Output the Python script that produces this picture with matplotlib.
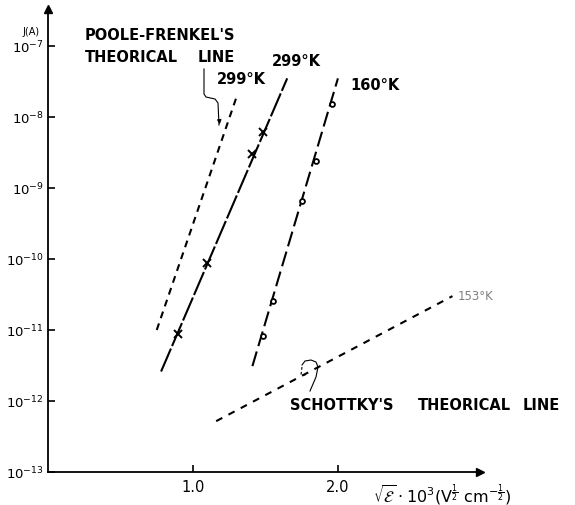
import numpy as np
import matplotlib
matplotlib.use("Agg")
import matplotlib.pyplot as plt
from matplotlib.lines import Line2D

plt.rcParams['font.family'] = ['DejaVu Sans']
plt.rcParams['lines.scale_dashes'] = False
plt.rcParams['mathtext.fontset'] = 'dejavusans'

# ---- data (x = sqrt(E)*1e3, J in A) ----
pf_x = [0.75, 1.30]
pf_J = [1.0e-11, 1.9e-8]

t299_line_x = [0.78, 1.65]
t299_line_J = [2.6e-12, 3.5e-8]
t299_pts_x = [0.90, 1.10, 1.41, 1.48]
t299_pts_J = [8.7e-12, 8.7e-11, 3.0e-9, 6.2e-9]

t160_line_x = [1.41, 2.00]
t160_line_J = [3.1e-12, 3.5e-8]
t160_pts_x = [1.48, 1.55, 1.75, 1.85, 1.96]
t160_pts_J = [8.3e-12, 2.6e-11, 6.6e-10, 2.4e-9, 1.5e-8]

schottky_x = [1.16, 2.79]
schottky_J = [5.2e-13, 3.0e-11]

y_exps = [-13, -12, -11, -10, -9, -8, -7]
x_ticks = [1.0, 2.0]
x_ticklabels = ['1.0', '2.0']

W, H = 575, 506
fig = plt.figure(figsize=(W / 100, H / 100), dpi=100)

def fx(px):
    return px / W

def fy(py):
    return 1 - py / H

ax = fig.add_axes([fx(48), fy(473), fx(480) - fx(48), fy(10) - fy(473)])
ax.set_yscale('log')
ax.set_xlim(0, 2.98)
ax.set_ylim(1e-13, 10 ** (-13 + 463 / 71))

for s in ['top', 'right']:
    ax.spines[s].set_visible(False)
for s in ['left', 'bottom']:
    ax.spines[s].set_linewidth(1.3)

ax.set_yticks([10.0 ** e for e in y_exps])
ax.set_yticklabels([r'$10^{%d}$' % e for e in y_exps], fontsize=9.5)
ax.yaxis.set_minor_locator(matplotlib.ticker.NullLocator())
ax.tick_params(axis='y', direction='in', length=5, width=1.2, pad=3)
ax.set_xticks(x_ticks)
ax.set_xticklabels(x_ticklabels, fontsize=10.5)
ax.tick_params(axis='x', direction='in', length=5, width=1.2, pad=5)

# axis arrows
ax.plot(1, 0, '>k', transform=ax.transAxes, clip_on=False, markersize=6)
ax.plot(0, 1, '^k', transform=ax.transAxes, clip_on=False, markersize=6)

lw = 1.5
# Poole-Frenkel theoretical line
ax.plot(pf_x, pf_J, color='black', lw=lw, dashes=(5, 4))
# 299 K experimental
ax.plot(t299_line_x, t299_line_J, color='black', lw=lw, dashes=(18, 2))
ax.plot(t299_pts_x, t299_pts_J, linestyle='none', marker='x', color='black',
        markersize=6, mew=1.4)
# 160 K experimental
ax.plot(t160_line_x, t160_line_J, color='black', lw=lw, dashes=(11, 4))
ax.plot(t160_pts_x, t160_pts_J, linestyle='none', marker='o', mfc='white',
        mec='black', markersize=3.5, mew=1.3)
# Schottky theoretical line
ax.plot(schottky_x, schottky_J, color='black', lw=lw, dashes=(5, 5))

# ---- texts ----
tk = dict(fontsize=10.5, fontweight='bold', color='black')
fig.text(fx(31), fy(32), 'J(A)', fontsize=7, ha='center', va='center')
fig.text(fx(85), fy(35), "POOLE-FRENKEL'S", ha='left', va='center', **tk)
fig.text(fx(85), fy(58), "THEORICAL", ha='left', va='center', **tk)
fig.text(fx(198), fy(58), "LINE", ha='left', va='center', **tk)
fig.text(fx(217), fy(80), "299°K", ha='left', va='center', **tk)
fig.text(fx(272), fy(62), "299°K", ha='left', va='center', **tk)
fig.text(fx(350), fy(86), "160°K", ha='left', va='center', **tk)
fig.text(fx(458), fy(297), "153°K", ha='left', va='center', fontsize=8.5,
         color='#808080')
fig.text(fx(290), fy(405), "SCHOTTKY'S", ha='left', va='center', **tk)
fig.text(fx(418), fy(405), "THEORICAL", ha='left', va='center', **tk)
fig.text(fx(523), fy(405), "LINE", ha='left', va='center', **tk)
fig.text(fx(373), fy(495),
         r'$\sqrt{\mathcal{E}}\cdot 10^{3}(\mathrm{V}^{\frac{1}{2}}\ \mathrm{cm}^{-\frac{1}{2}})$',
         ha='left', va='center', fontsize=11.5)

# leader lines
def leader(pts, **kw):
    xs = [fx(p[0]) for p in pts]
    ys = [fy(p[1]) for p in pts]
    fig.add_artist(Line2D(xs, ys, color='black', lw=0.8, **kw))

leader([(204, 70), (204, 95), (206, 98), (215, 100), (218, 104), (219, 126)])
fig.add_artist(matplotlib.patches.FancyArrowPatch(
    (fx(219), fy(118)), (fx(220), fy(128)), transform=fig.transFigure,
    arrowstyle='-|>', mutation_scale=6, color='black', lw=0.8))
leader([(310, 392), (316, 378), (318, 368), (316, 363), (311, 361),
        (305, 362), (302, 366)])
leader([(302, 368), (301, 376), (306, 376)], linestyle=(0, (2, 1.5)))

fig.savefig('out.png', dpi=100)
